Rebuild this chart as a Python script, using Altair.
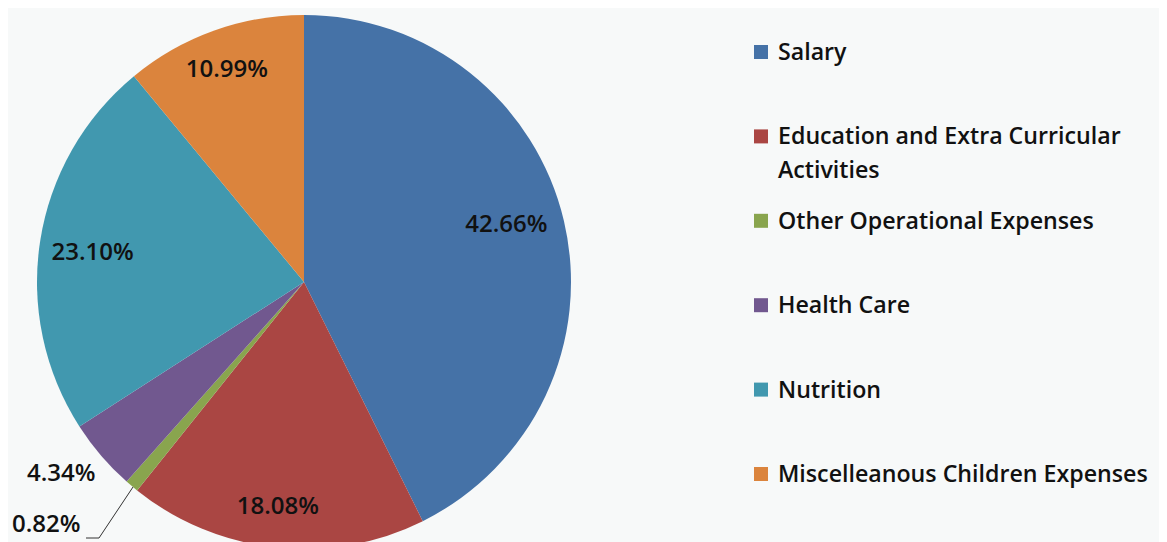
import altair as alt
import pandas as pd

categories = [
    "Salary",
    "Education and Extra Curricular Activities",
    "Other Operational Expenses",
    "Health Care",
    "Nutrition",
    "Miscelleanous Children Expenses",
]
values = [42.66, 18.08, 0.82, 4.34, 23.10, 10.99]
colors = ["#4572A7", "#AA4643", "#89A54E", "#71588F", "#4198AF", "#DB843D"]

df = pd.DataFrame({"category": categories, "value": values, "order": list(range(len(categories)))})

FONT = "Open Sans"
BG = "#f7f9f9"
CX, CY, R = 296, 274, 267
LABEL_SIZE = 24

color = alt.Color("category:N", scale=alt.Scale(domain=categories, range=colors), legend=None)
theta = alt.Theta("value:Q", stack=True)
order = alt.Order("order:Q")

base = alt.Chart(df).transform_calculate(
    label="format(datum.value, '.2f') + '%'",
    legend_label="replace(datum.category, 'Curricular Activities', 'Curricular\\nActivities')",
)

pie = base.mark_arc(radius=R, stroke=None).encode(
    theta=theta, color=color, order=order,
    x=alt.value(CX), y=alt.value(CY),
)

# (category, label radius, dx, dy)
label_place = [
    ("Salary", 210, -2, -9),
    ("Education and Extra Curricular Activities", 226, -2, 0),
    ("Nutrition", 213, -1, 4),
    ("Miscelleanous Children Expenses", 225, -1, 0),
    ("Health Care", 309, -8, -9),
    ("Other Operational Expenses", 350, -32, -24),
]

label_layers = []
for cat, rad, dx, dy in label_place:
    label_layers.append(
        base.mark_text(radius=rad, dx=dx, dy=dy, font=FONT, fontSize=LABEL_SIZE, fontWeight=600,
                       color="#111111").encode(
            theta=theta, order=order,
            x=alt.value(CX), y=alt.value(CY),
            text=alt.condition(f"datum.category == '{cat}'", "label:N", alt.value("")),
        )
    )

leader_data = alt.Data(values=[{"k": 1}])
leader1 = alt.Chart(leader_data).mark_rule(color="#333333", strokeWidth=1).encode(
    x=alt.value(125), y=alt.value(479), x2=alt.value(91), y2=alt.value(530)
)
leader2 = alt.Chart(leader_data).mark_rule(color="#333333", strokeWidth=1).encode(
    x=alt.value(91), y=alt.value(530), x2=alt.value(78), y2=alt.value(530)
)

ypos = alt.Y("category:N", sort=categories,
             scale=alt.Scale(type="point", range=[44, 466], padding=0), axis=None)

leg_sym = base.mark_square(size=196, opacity=1).encode(
    y=ypos, x=alt.value(753), color=color,
)
leg_txt = base.mark_text(align="left", baseline="alphabetic", dy=8, font=FONT, fontSize=23.2,
                         fontWeight=600, lineBreak="\n", lineHeight=34, color="#111111").encode(
    y=ypos, x=alt.value(770), text="legend_label:N",
)

chart = alt.layer(pie, *label_layers, leader1, leader2, leg_sym, leg_txt).properties(
    width=1151, height=560, padding=0, autosize=alt.AutoSizeParams(type="none"),
    background=BG,
).configure_view(stroke=None)

chart.save("out.html", embed_options={"renderer": "svg", "actions": False})
